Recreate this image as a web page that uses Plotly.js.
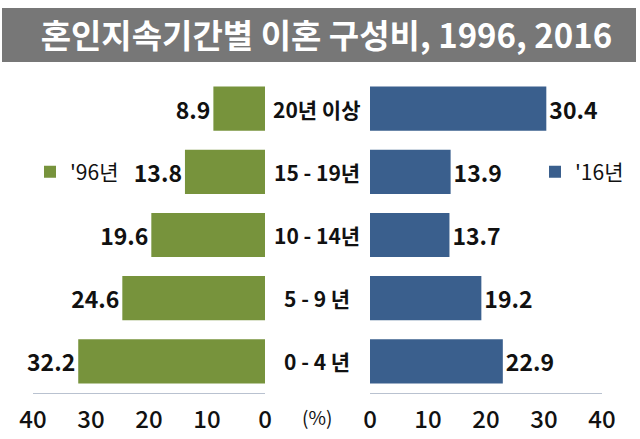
<!DOCTYPE html>
<html><head><meta charset="utf-8">
<script src="https://cdn.plot.ly/plotly-3.0.1.min.js"></script>
<style>html,body{margin:0;padding:0;background:#fff}#c{width:640px;height:439px}</style>
</head><body><div id="c"></div>
<script>
const titleText = '혼인지속기간별 이혼 구성비, 1996, 2016';
const categories = ['0 - 4 년', '5 - 9 년', '10 - 14년', '15 - 19년', '20년 이상'];
const values1996 = [32.2, 24.6, 19.6, 13.8, 8.9];
const values2016 = [22.9, 19.2, 13.7, 13.9, 30.4];
const seriesNames = ["'96년", "'16년"];
const tickVals = [0, 10, 20, 30, 40];
const unitLabel = '(%)';

const FONT = 'Noto Sans CJK KR, Malgun Gothic, sans-serif';
const green = '#77933C', blue = '#3A5F8D';

const traces = [
  {type:'bar', orientation:'h', y:categories, x:values1996, xaxis:'x', yaxis:'y',
   name:seriesNames[0], marker:{color:green}, width:0.7,
   text:values1996.map(v=>v.toFixed(1)), textposition:'outside', cliponaxis:false,
   textfont:{family:FONT, size:23, color:'#111', weight:'bold'}, legend:'legend'},
  {type:'bar', orientation:'h', y:categories, x:values2016, xaxis:'x2', yaxis:'y',
   name:seriesNames[1], marker:{color:blue}, width:0.7,
   text:values2016.map(v=>v.toFixed(1)), textposition:'outside', cliponaxis:false,
   textfont:{family:FONT, size:23, color:'#111', weight:'bold'}, legend:'legend2'}
];

const axisCommon = {tickvals:tickVals, ticktext:tickVals.map(String), showgrid:false, zeroline:false,
  showline:true, linecolor:'#B9C2D0', linewidth:1, ticks:'', ticklabelstandoff:5,
  tickfont:{family:FONT, size:24, color:'#111', weight:500}, fixedrange:true};

const annotations = categories.map(c=>({xref:'paper', yref:'y', x:317/640, y:c, text:c,
  showarrow:false, xanchor:'center', yanchor:'middle', font:{family:FONT, size:21, color:'#111', weight:'bold'}}));
annotations.push({xref:'paper', yref:'paper', x:317/640, y:-0.075, text:unitLabel, showarrow:false,
  xanchor:'center', yanchor:'middle', font:{family:FONT, size:19, color:'#111'}});

const layout = {
  width:640, height:439, margin:{l:0, r:0, t:77, b:46},
  paper_bgcolor:'#fff', plot_bgcolor:'rgba(0,0,0,0)',
  title:{text:titleText, x:0.51, xanchor:'center', y:1-36/439, yanchor:'middle',
    font:{family:FONT, size:33, color:'#fff', weight:'bold'}},
  shapes:[{type:'rect', xref:'paper', yref:'paper', x0:2/640, x1:636/640, y0:(393-62)/316, y1:(393-8)/316,
    fillcolor:'#777777', line:{width:0}, layer:'below'}],
  xaxis:Object.assign({}, axisCommon, {domain:[33/640, 265/640], range:[40,0]}),
  xaxis2:Object.assign({}, axisCommon, {domain:[370/640, 602/640], range:[0,40], anchor:'y'}),
  yaxis:{type:'category', categoryarray:categories, showticklabels:false, showgrid:false, zeroline:false,
    showline:false, ticks:'', fixedrange:true},
  bargap:0.3,
  showlegend:true,
  legend:{x:30/640, y:(393-172)/316, xanchor:'left', yanchor:'middle', bgcolor:'rgba(0,0,0,0)',
    font:{family:FONT, size:21, color:'#111'}, itemwidth:30},
  legend2:{x:535/640, y:(393-172)/316, xanchor:'left', yanchor:'middle', bgcolor:'rgba(0,0,0,0)',
    font:{family:FONT, size:21, color:'#111'}, itemwidth:30},
  annotations:annotations
};
Plotly.newPlot('c', traces, layout, {staticPlot:true, displayModeBar:false});
</script></body></html>
